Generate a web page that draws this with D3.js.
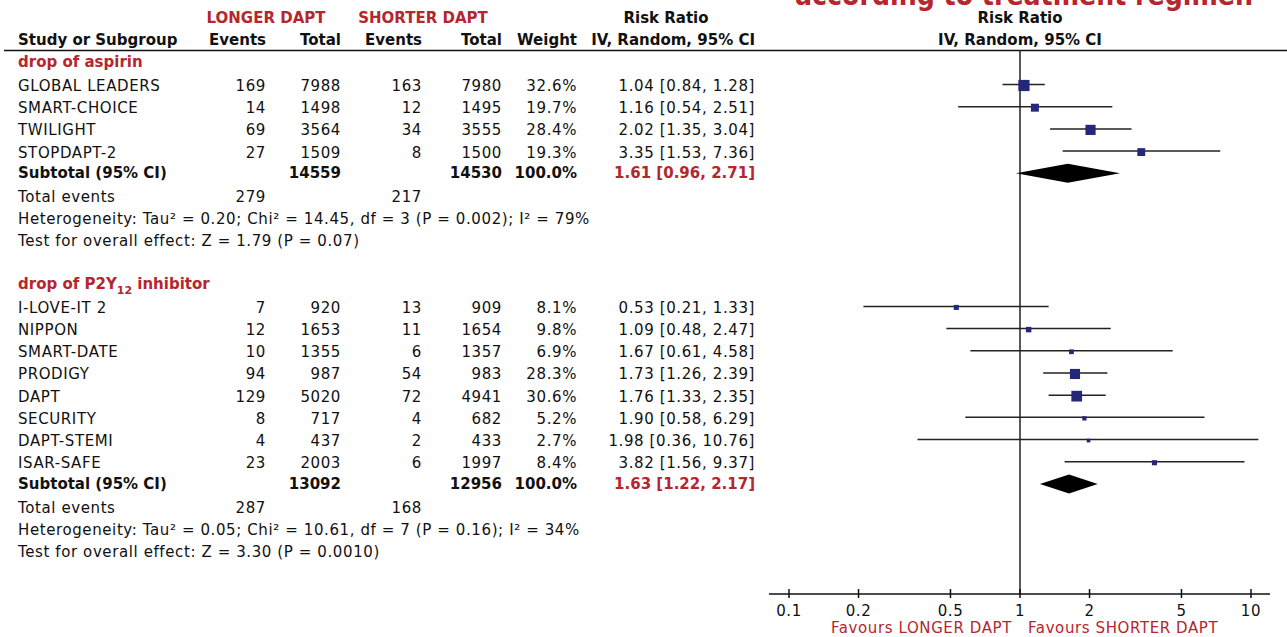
<!DOCTYPE html>
<html>
<head>
<meta charset="utf-8">
<title>Forest plot</title>
<script src="https://cdn.jsdelivr.net/npm/d3@7"></script>
<style>
  body { margin: 0; background: #fff; }
  svg text { font-family: "DejaVu Sans", sans-serif; font-size: 15px; fill: #111; letter-spacing: 0.6px; }
  svg text.b { font-weight: bold; letter-spacing: 0; }
</style>
</head>
<body>
<div id="chart"></div>
<script>
// data
var aspStudies = ["GLOBAL LEADERS", "SMART-CHOICE", "TWILIGHT", "STOPDAPT-2"];
var aspEvLong = [169, 14, 69, 27];
var aspTotLong = [7988, 1498, 3564, 1509];
var aspEvShort = [163, 12, 34, 8];
var aspTotShort = [7980, 1495, 3555, 1500];
var aspWeight = [32.6, 19.7, 28.4, 19.3];
var aspRR = [1.04, 1.16, 2.02, 3.35];
var aspLo = [0.84, 0.54, 1.35, 1.53];
var aspHi = [1.28, 2.51, 3.04, 7.36];
var aspSubtotal = { totLong: 14559, totShort: 14530, rr: 1.61, lo: 0.96, hi: 2.71, evLong: 279, evShort: 217 };
var aspHet = "Heterogeneity: Tau² = 0.20; Chi² = 14.45, df = 3 (P = 0.002); I² = 79%";
var aspTest = "Test for overall effect: Z = 1.79 (P = 0.07)";

var p2yStudies = ["I-LOVE-IT 2", "NIPPON", "SMART-DATE", "PRODIGY", "DAPT", "SECURITY", "DAPT-STEMI", "ISAR-SAFE"];
var p2yEvLong = [7, 12, 10, 94, 129, 8, 4, 23];
var p2yTotLong = [920, 1653, 1355, 987, 5020, 717, 437, 2003];
var p2yEvShort = [13, 11, 6, 54, 72, 4, 2, 6];
var p2yTotShort = [909, 1654, 1357, 983, 4941, 682, 433, 1997];
var p2yWeight = [8.1, 9.8, 6.9, 28.3, 30.6, 5.2, 2.7, 8.4];
var p2yRR = [0.53, 1.09, 1.67, 1.73, 1.76, 1.90, 1.98, 3.82];
var p2yLo = [0.21, 0.48, 0.61, 1.26, 1.33, 0.58, 0.36, 1.56];
var p2yHi = [1.33, 2.47, 4.58, 2.39, 2.35, 6.29, 10.76, 9.37];
var p2ySubtotal = { totLong: 13092, totShort: 12956, rr: 1.63, lo: 1.22, hi: 2.17, evLong: 287, evShort: 168 };
var p2yHet = "Heterogeneity: Tau² = 0.05; Chi² = 10.61, df = 7 (P = 0.16); I² = 34%";
var p2yTest = "Test for overall effect: Z = 3.30 (P = 0.0010)";

var axisTicks = [0.1, 0.2, 0.5, 1, 2, 5, 10];

var w = 1287, h = 637;
var red = "#b5262d", navy = "#25277a";

var svg = d3.select("#chart").append("svg")
  .attr("width", w).attr("height", h);

// scales
var x = d3.scaleLog().domain([0.1, 10]).range([789, 1251]);
var rowY = d3.scaleLinear().domain([1, 22]).range([86, 552]);
var boxSize = d3.scaleLinear().domain([0, 35]).range([3, 11.8]);

var col = { name: 18, evL: 266, totL: 341, evS: 422, totS: 502, wt: 577, rr: 755 };

function txt(xp, yp, s, anchor) {
  return svg.append("text").attr("x", xp).attr("y", yp)
    .attr("text-anchor", anchor || "start").text(s);
}
function btxt(xp, yp, s, anchor) {
  return txt(xp, yp, s, anchor).attr("class", "b");
}

// title (cut off at the top of the picture)
svg.append("text").attr("class", "b").attr("x", 795).attr("y", 5)
  .attr("textLength", 458).attr("lengthAdjust", "spacingAndGlyphs")
  .style("font-size", "29px").style("fill", red)
  .text("according to treatment regimen");

// headers
btxt(266, 23, "LONGER DAPT", "middle").style("fill", red);
btxt(423, 23, "SHORTER DAPT", "middle").style("fill", red);
btxt(666, 23, "Risk Ratio", "middle");
btxt(1020, 23, "Risk Ratio", "middle");
var hy = 45;
btxt(col.name, hy, "Study or Subgroup");
btxt(col.evL, hy, "Events", "end");
btxt(col.totL, hy, "Total", "end");
btxt(col.evS, hy, "Events", "end");
btxt(col.totS, hy, "Total", "end");
btxt(col.wt, hy, "Weight", "end");
btxt(col.rr, hy, "IV, Random, 95% CI", "end");
btxt(1020, hy, "IV, Random, 95% CI", "middle");

svg.append("line").attr("x1", 4).attr("x2", w).attr("y1", 50.5).attr("y2", 50.5)
  .attr("stroke", "#111").attr("stroke-width", 1.5);

// vertical line of no effect
svg.append("line").attr("x1", x(1)).attr("x2", x(1)).attr("y1", 50).attr("y2", 594)
  .attr("stroke", "#222").attr("stroke-width", 1.5);

function fmt2(v) { return v.toFixed(2); }
function ciText(r, l, u) { return fmt2(r) + " [" + fmt2(l) + ", " + fmt2(u) + "]"; }

function drawGroup(k0, title, subLabel, studies, evL, totL, evS, totS, wt, rr, lo, hi, sub, het, test) {
  var t = svg.append("text").attr("class", "b").attr("x", col.name).attr("y", rowY(k0) + 3)
    .style("fill", red);
  t.append("tspan").text(title);
  if (subLabel) {
    t.append("tspan").attr("dy", 5).style("font-size", "11px").text(subLabel);
    t.append("tspan").attr("dy", -5).text(" inhibitor");
  }

  studies.forEach(function (s, i) {
    var y = rowY(k0 + 1 + i);
    var b = y + 5;
    txt(col.name, b, s);
    txt(col.evL, b, evL[i], "end");
    txt(col.totL, b, totL[i], "end");
    txt(col.evS, b, evS[i], "end");
    txt(col.totS, b, totS[i], "end");
    txt(col.wt, b, wt[i].toFixed(1) + "%", "end");
    txt(col.rr, b, ciText(rr[i], lo[i], hi[i]), "end");

    svg.append("line")
      .attr("x1", x(lo[i])).attr("x2", x(hi[i]))
      .attr("y1", y - 1.5).attr("y2", y - 1.5)
      .attr("stroke", "#222").attr("stroke-width", 1.5);
    var s2 = boxSize(wt[i]);
    svg.append("rect")
      .attr("x", x(rr[i]) - s2 / 2).attr("y", y - 0.5 - s2 / 2)
      .attr("width", s2).attr("height", s2)
      .attr("fill", navy);
  });

  var ks = k0 + 1 + studies.length;
  var ys = rowY(ks) - 1.5;
  btxt(col.name, ys + 5, "Subtotal (95% CI)");
  btxt(col.totL, ys + 5, sub.totLong, "end");
  btxt(col.totS, ys + 5, sub.totShort, "end");
  btxt(col.wt, ys + 5, "100.0%", "end");
  btxt(col.rr, ys + 5, ciText(sub.rr, sub.lo, sub.hi), "end").style("fill", red);

  svg.append("path")
    .attr("d", d3.line()([
      [x(sub.lo), ys], [x(sub.rr), ys - 9.5], [x(sub.hi), ys], [x(sub.rr), ys + 9.5]
    ]) + "Z")
    .attr("fill", "#000");

  txt(col.name, rowY(ks + 1) + 5, "Total events");
  txt(col.evL, rowY(ks + 1) + 5, sub.evLong, "end");
  txt(col.evS, rowY(ks + 1) + 5, sub.evShort, "end");
  txt(col.name, rowY(ks + 2) + 5, het);
  txt(col.name, rowY(ks + 3) + 5, test);
}

drawGroup(0, "drop of aspirin", null, aspStudies, aspEvLong, aspTotLong, aspEvShort, aspTotShort,
  aspWeight, aspRR, aspLo, aspHi, aspSubtotal, aspHet, aspTest);
drawGroup(10, "drop of P2Y", "12", p2yStudies, p2yEvLong, p2yTotLong, p2yEvShort, p2yTotShort,
  p2yWeight, p2yRR, p2yLo, p2yHi, p2ySubtotal, p2yHet, p2yTest);

// log axis
var axisY = 594;
var ax = svg.append("g").attr("transform", "translate(0," + axisY + ")");
ax.append("line").attr("x1", 769).attr("x2", 1270).attr("stroke", "#111").attr("stroke-width", 1.5);
ax.selectAll("line.tick").data(axisTicks).enter().append("line")
  .attr("class", "tick")
  .attr("x1", function (d) { return x(d); }).attr("x2", function (d) { return x(d); })
  .attr("y1", -5).attr("y2", 4)
  .attr("stroke", "#111").attr("stroke-width", 1.5);
ax.selectAll("text.tl").data(axisTicks).enter().append("text")
  .attr("class", "tl")
  .attr("x", function (d) { return x(d); }).attr("y", 22)
  .attr("text-anchor", "middle")
  .text(function (d) { return d; });

txt(x(1) - 8, 633, "Favours LONGER DAPT", "end").style("fill", red);
txt(x(1) + 8, 633, "Favours SHORTER DAPT", "start").style("fill", red);
</script>
</body>
</html>
